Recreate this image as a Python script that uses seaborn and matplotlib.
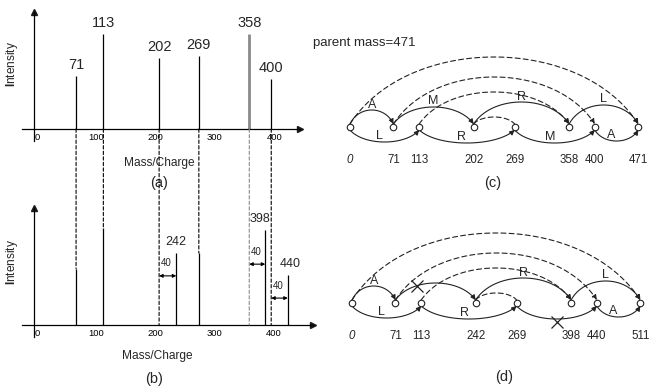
import numpy as np
import matplotlib
matplotlib.use("Agg")
import matplotlib.pyplot as plt
from matplotlib.patches import FancyArrowPatch, ConnectionPatch
from matplotlib.path import Path
from matplotlib.transforms import ScaledTranslation
import seaborn as sns

# spectrum (a): peak positions read on the m/z axis, heights, labels
peaks_a = [71, 117, 211, 278, 363, 400]
height_a = [45, 81, 61, 62, 81, 43]
labels_a = ["71", "113", "202", "269", "358", "400"]

# spectrum (b)
peaks_b = [71, 117, 240, 278, 390, 428]
height_b = [48, 83, 61.5, 61.5, 81, 43]
labels_b = ["", "", "242", "", "398", "440"]

# dashed guides from (a) peaks down to (b): where they stop in (b)
guide_end_b = [48, 83, 0, 61.5, 0, 0]

# +40 shifts in (b)
shift_from = [211, 363, 400]
shift_to = [240, 390, 428]
shift_level = [42, 52, 23]
shift_text = ["40", "40", "40"]

tick_pos = [0, 50, 100, 150, 200, 250, 300, 350, 400]
tick_labels = ["0", "", "100", "", "200", "", "300", "", "400"]

# spectrum graphs (c) and (d)
slots = [0, 71, 113, 202, 269, 358, 400, 471]
nodes_c = ["0", "71", "113", "202", "269", "358", "400", "471"]
nodes_d = ["0", "71", "113", "242", "269", "398", "440", "511"]

upper_edges = [(0, 1), (1, 3), (3, 5), (5, 7)]
lower_edges = [(0, 2), (2, 4), (4, 6), (6, 7)]
dashed_edges = [(0, 7), (1, 6), (2, 5), (3, 4)]
upper_c = ["A", "M", "R", "L"]
lower_c = ["L", "R", "M", "A"]
upper_d = ["A", "", "R", "L"]
lower_d = ["L", "R", "", "A"]

# arc heights in pixels (layout only)
upper_h = [17, 20, 25, 22]
lower_h = [-15, -16, -16, -14]
dashed_h = [70, 50, 35, 10]

W, H = 650, 387
sns.set_theme(style="white")
plt.rcParams["font.family"] = ["Liberation Sans", "DejaVu Sans"]
plt.rcParams["mathtext.fontset"] = "custom"
plt.rcParams["mathtext.bf"] = "Liberation Sans:bold"
plt.rcParams["mathtext.rm"] = "Liberation Sans"

fig = plt.figure(figsize=(W / 100, H / 100), dpi=100)


def box(l, t, r, b):
    return [l / W, 1 - b / H, (r - l) / W, (b - t) / H]


def spectrum_axes(rect, xmax):
    ax = fig.add_axes(rect)
    ax.set_xlim(-20, xmax)
    ax.set_ylim(-10, 100)
    ax.patch.set_alpha(0)
    for s in ["top", "right"]:
        ax.spines[s].set_visible(False)
    for s in ["left", "bottom"]:
        ax.spines[s].set_position(("data", 0))
        ax.spines[s].set_linewidth(0.9)
        ax.spines[s].set_color("black")
    ax.set_yticks([])
    ax.set_xticks(tick_pos, tick_labels)
    ax.tick_params(axis="x", direction="in", length=4.3, width=0.8,
                   pad=3, labelsize=6.8, colors="black")
    for lab in ax.get_xticklabels():
        lab.set_transform(lab.get_transform() + ScaledTranslation(0.03, 0, fig.dpi_scale_trans))
    ax.plot(1, 0, ">k", ms=4, transform=ax.get_yaxis_transform(), clip_on=False)
    ax.plot(0, 1, "^k", ms=4, transform=ax.get_xaxis_transform(), clip_on=False)
    ax.set_ylabel(r"$\mathbf{I}$ntensity", fontsize=8.6)
    ax.set_xlabel("Mass/Charge", fontsize=8.6)
    return ax


ax_a = spectrum_axes(box(22.1, 12, 300.3, 140.7), 449)
ax_b = spectrum_axes(box(22.1, 208, 312.7, 336.7), 470)
ax_a.yaxis.set_label_coords(-0.008, 0.6)
ax_b.yaxis.set_label_coords(-0.008, 0.58)
ax_a.xaxis.set_label_coords(0.492, -0.13)
ax_b.xaxis.set_label_coords(0.464, -0.1)
ax_a.text(0.492, -0.329, "(a)", transform=ax_a.transAxes, ha="center", va="center", fontsize=10.5)
ax_b.text(0.454, -0.329, "(b)", transform=ax_b.transAxes, ha="center", va="center", fontsize=10.5)

for i, (x, h, lab) in enumerate(zip(peaks_a, height_a, labels_a)):
    grey = i == 4
    ax_a.vlines(x, 0, h, color="#8a8a8a" if grey else "black", lw=2 if grey else 0.9)
    ax_a.annotate(lab, (x, h), xytext=(0, 8), textcoords="offset points",
                  ha="center", va="center", fontsize=10.5)

lab_dx = {2: 0, 4: -3.5, 5: 2}
for i, (x, h, lab) in enumerate(zip(peaks_b, height_b, labels_b)):
    ax_b.vlines(x, 0, h, color="black", lw=0.9)
    if lab:
        ax_b.annotate(lab, (x, h), xytext=(lab_dx[i], 8), textcoords="offset points",
                      ha="center", va="center", fontsize=9)

for x0, x1, lv, t in zip(shift_from, shift_to, shift_level, shift_text):
    ax_b.annotate("", xy=(x1, lv), xytext=(x0, lv),
                  arrowprops=dict(arrowstyle="<|-|>", mutation_scale=5, lw=0.8,
                                  color="black", shrinkA=0, shrinkB=0))
    ax_b.annotate(t, (x0, lv), xytext=(1.2, 9), textcoords="offset points",
                  ha="left", va="center", fontsize=7)

for i, (x, yb) in enumerate(zip(peaks_a, guide_end_b)):
    con = ConnectionPatch(xyA=(x, 0), coordsA=ax_a.transData,
                          xyB=(x, yb), coordsB=ax_b.transData,
                          color="#8a8a8a" if i == 4 else "black",
                          lw=0.8, linestyle=(0, (3, 2)))
    fig.add_artist(con)


def arc(ax, x0, x1, peak, style="-", head=True, k=0.2, r=3.0):
    y0 = r if peak > 0 else -r
    hh = (peak - y0 / 4) / 0.75
    dx = x1 - x0
    P = np.array([[x0, y0], [x0 + k * dx, hh], [x1 - k * dx, hh], [x1, y0]])
    t = np.linspace(0, 1, 80)[:, None]
    pts = ((1 - t) ** 3 * P[0] + 3 * (1 - t) ** 2 * t * P[1]
           + 3 * (1 - t) * t ** 2 * P[2] + t ** 3 * P[3])
    patch = FancyArrowPatch(path=Path(pts), arrowstyle="-|>" if head else "-",
                            mutation_scale=7, lw=0.8, color="#222222",
                            linestyle=style)
    ax.add_patch(patch)
    return P


def bez(P, t):
    return ((1 - t) ** 3 * P[0] + 3 * (1 - t) ** 2 * t * P[1]
            + 3 * (1 - t) * t ** 2 * P[2] + t ** 3 * P[3])


def graph(ax, names, up_lab, low_lab, crossed=False):
    for (i, j), h, lab in zip(upper_edges, upper_h, up_lab):
        P = arc(ax, slots[i], slots[j], h)
        if lab:
            ax.text((slots[i] + slots[j]) / 2, h + 5.5, lab, ha="center", va="center", fontsize=9)
        elif crossed:
            px, py = bez(P, 0.3)
            ax.plot(px, py, "x", color="#222222", ms=9, mew=0.9)
    for (i, j), h, lab in zip(lower_edges, lower_h, low_lab):
        P = arc(ax, slots[i], slots[j], h)
        if lab:
            ax.text((slots[i] + slots[j]) / 2 - 8, h + 6, lab, ha="center", va="center", fontsize=9)
        elif crossed:
            px, py = bez(P, 0.5)
            ax.plot(px, py - 2.5, "x", color="#222222", ms=9, mew=0.9)
    for n, ((i, j), h) in enumerate(zip(dashed_edges, dashed_h)):
        arc(ax, slots[i], slots[j], h, style=(0, (4.5, 2.8)), head=n < 3)
    sns.scatterplot(x=slots, y=[0] * len(slots), ax=ax, s=22, color="white",
                    edgecolor="#222222", linewidth=0.8, zorder=5, legend=False)
    for x, name in zip(slots, names):
        ax.text(x, -33, name, ha="center", va="center", fontsize=8.3,
                style="italic" if name == "0" else "normal")
    ax.axis("off")


ax_c = fig.add_axes(box(300, 30, 650, 195))
ax_c.set_xlim(-81.7, 490.2)
ax_c.set_ylim(-68, 97)
graph(ax_c, nodes_c, upper_c, lower_c)
ax_c.text(-60.5, 84, "parent mass=471", ha="left", va="center", fontsize=9.5)
ax_c.text(233.7, -56, "(c)", ha="center", va="center", fontsize=10.5)

ax_d = fig.add_axes(box(300, 200, 650, 387))
ax_d.set_xlim(-85, 486.9)
ax_d.set_ylim(-84, 103)
graph(ax_d, nodes_d, upper_d, lower_d, crossed=True)
ax_d.text(248, -73.7, "(d)", ha="center", va="center", fontsize=10.5)

fig.savefig("out.png", dpi=100)
